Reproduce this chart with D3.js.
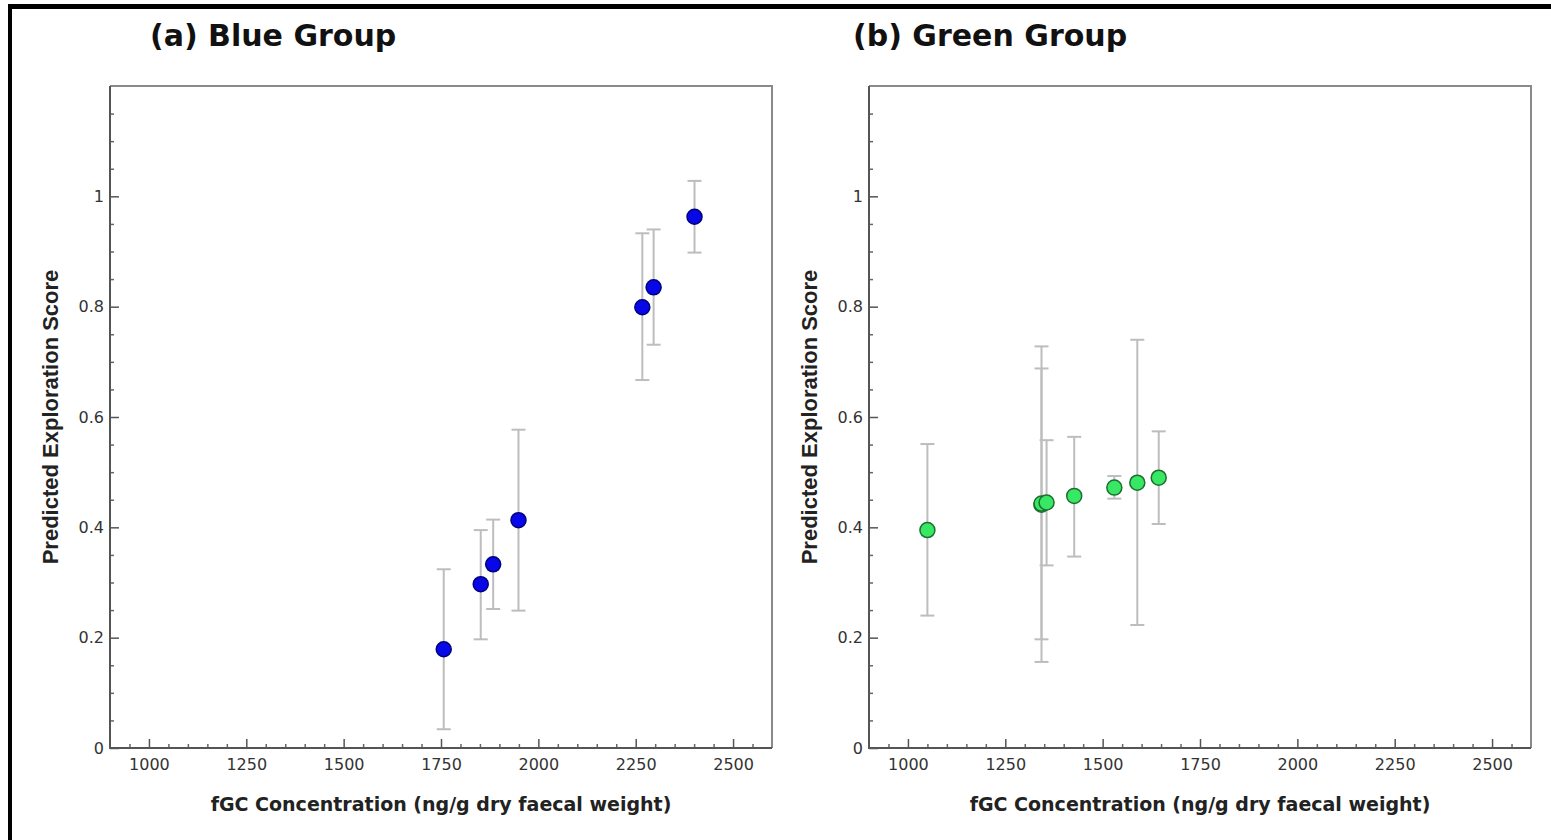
<!DOCTYPE html>
<html>
<head>
<meta charset="utf-8">
<script src="https://cdn.jsdelivr.net/npm/d3@7"></script>
<style>
  html, body { margin: 0; padding: 0; background: #fff; }
  svg { display: block; }
</style>
</head>
<body>
<svg id="chart" width="1551" height="840"></svg>
<script>
// ---------- data ----------
const panelTitles = ["(a) Blue Group", "(b) Green Group"];
const xTickLabels = [1000, 1250, 1500, 1750, 2000, 2250, 2500];
const yTickLabels = [0, 0.2, 0.4, 0.6, 0.8, 1];

const blueX  = [1757, 1852, 1884, 1949, 2267, 2296, 2401];
const blueY  = [0.179, 0.297, 0.333, 0.413, 0.799, 0.835, 0.963];
const blueLo = [0.034, 0.197, 0.252, 0.249, 0.667, 0.731, 0.898];
const blueHi = [0.324, 0.395, 0.414, 0.577, 0.933, 0.940, 1.028];

const greenX  = [1050, 1343, 1343, 1356, 1427, 1530, 1589, 1644];
const greenY  = [0.395, 0.441, 0.443, 0.445, 0.457, 0.472, 0.481, 0.490];
const greenLo = [0.240, 0.156, 0.197, 0.331, 0.347, 0.452, 0.223, 0.406];
const greenHi = [0.551, 0.728, 0.688, 0.558, 0.564, 0.493, 0.740, 0.574];

const xLabel = "fGC Concentration (ng/g dry faecal weight)";
const yLabel = "Predicted Exploration Score";

// ---------- layout ----------
const svg = d3.select("#chart");
const W = 1551, H = 840;

// outer frame (top and left edges visible)
svg.append("rect").attr("x", 8).attr("y", 4).attr("width", W - 8).attr("height", 5).attr("fill", "#000");
svg.append("rect").attr("x", 8).attr("y", 4).attr("width", 4).attr("height", H - 4).attr("fill", "#000");

const panels = [
  { left: 110, title: panelTitles[0], titleX: 150, xs: blueX, ys: blueY, lo: blueLo, hi: blueHi,
    fill: "#0707e8", stroke: "#00007a" },
  { left: 869, title: panelTitles[1], titleX: 853, xs: greenX, ys: greenY, lo: greenLo, hi: greenHi,
    fill: "#38e865", stroke: "#1c6e30" }
];
const plotTop = 86, plotBottom = 748, pw = 662;

panels.forEach(p => {
  const g = svg.append("g");
  const x = d3.scaleLinear().domain([900, 2600]).range([p.left, p.left + pw]);
  const y = d3.scaleLinear().domain([0, 1.2]).range([plotBottom, plotTop]);

  // title
  g.append("text").attr("x", p.titleX).attr("y", 46)
    .attr("font-family", "DejaVu Sans").attr("font-weight", "bold").attr("font-size", 30)
    .attr("fill", "#111").text(p.title);

  // frame top/right
  g.append("path")
    .attr("d", `M${x(900)},${y(1.2)}H${x(2600)}V${y(0)}`)
    .attr("fill", "none").attr("stroke", "#8a8a8a").attr("stroke-width", 2);

  // minor ticks x
  const xMinor = d3.range(950, 2600, 50).filter(v => v % 250 !== 0);
  g.append("g").attr("transform", `translate(0,${plotBottom})`)
    .call(d3.axisBottom(x).tickValues(xMinor).tickSize(-4).tickFormat(""))
    .call(a => a.select(".domain").remove())
    .call(a => a.selectAll("line").attr("stroke", "#666").attr("stroke-width", 1.5));
  // major ticks x
  g.append("g").attr("transform", `translate(0,${plotBottom})`)
    .call(d3.axisBottom(x).tickValues(xTickLabels).tickSize(-9).tickPadding(11).tickFormat(d3.format("d")))
    .call(a => a.select(".domain").remove())
    .call(a => a.selectAll("line").attr("stroke", "#555").attr("stroke-width", 1.5))
    .call(a => a.selectAll("text").attr("font-family", "DejaVu Sans").attr("font-size", 16).attr("fill", "#333"));

  // minor ticks y
  const yMinor = d3.range(1, 24).map(i => i * 0.05).filter(v => Math.abs(v * 5 - Math.round(v * 5)) > 1e-6);
  g.append("g").attr("transform", `translate(${p.left},0)`)
    .call(d3.axisLeft(y).tickValues(yMinor).tickSize(-4).tickFormat(""))
    .call(a => a.select(".domain").remove())
    .call(a => a.selectAll("line").attr("stroke", "#666").attr("stroke-width", 1.5));
  // major ticks y
  g.append("g").attr("transform", `translate(${p.left},0)`)
    .call(d3.axisLeft(y).tickValues(yTickLabels).tickSize(-9).tickPadding(6).tickFormat(d => d === 0 ? "0" : d3.format("~g")(d)))
    .call(a => a.select(".domain").remove())
    .call(a => a.selectAll("line").attr("stroke", "#555").attr("stroke-width", 1.5))
    .call(a => a.selectAll("text").attr("font-family", "DejaVu Sans").attr("font-size", 16).attr("fill", "#333"));

  // axis lines (left & bottom)
  g.append("path")
    .attr("d", `M${x(900)},${y(1.2)}V${y(0)}H${x(2600)}`)
    .attr("fill", "none").attr("stroke", "#555").attr("stroke-width", 2);

  // axis titles
  g.append("text").attr("x", (x(900) + x(2600)) / 2).attr("y", 811)
    .attr("text-anchor", "middle")
    .attr("font-family", "DejaVu Sans").attr("font-weight", "bold").attr("font-size", 19)
    .attr("fill", "#222").text(xLabel);
  g.append("text")
    .attr("transform", `translate(${p.left - 52},${(plotTop + plotBottom) / 2}) rotate(-90)`)
    .attr("text-anchor", "middle")
    .attr("font-family", "Liberation Sans").attr("font-weight", "bold").attr("font-size", 22)
    .attr("fill", "#222").text(yLabel);

  const data = p.xs.map((v, i) => ({ x: v, y: p.ys[i], lo: p.lo[i], hi: p.hi[i] }));

  // error bars
  const eb = g.append("g").attr("stroke", "#bdbdbd").attr("stroke-width", 2).attr("fill", "none");
  data.forEach(d => {
    eb.append("line").attr("x1", x(d.x)).attr("x2", x(d.x)).attr("y1", y(d.lo)).attr("y2", y(d.hi));
    eb.append("line").attr("x1", x(d.x) - 7).attr("x2", x(d.x) + 7).attr("y1", y(d.lo)).attr("y2", y(d.lo));
    eb.append("line").attr("x1", x(d.x) - 7).attr("x2", x(d.x) + 7).attr("y1", y(d.hi)).attr("y2", y(d.hi));
  });

  // points
  g.append("g").selectAll("circle").data(data).join("circle")
    .attr("cx", d => x(d.x)).attr("cy", d => y(d.y)).attr("r", 7.5)
    .attr("fill", p.fill).attr("stroke", p.stroke).attr("stroke-width", 1.5);
});
</script>
</body>
</html>
